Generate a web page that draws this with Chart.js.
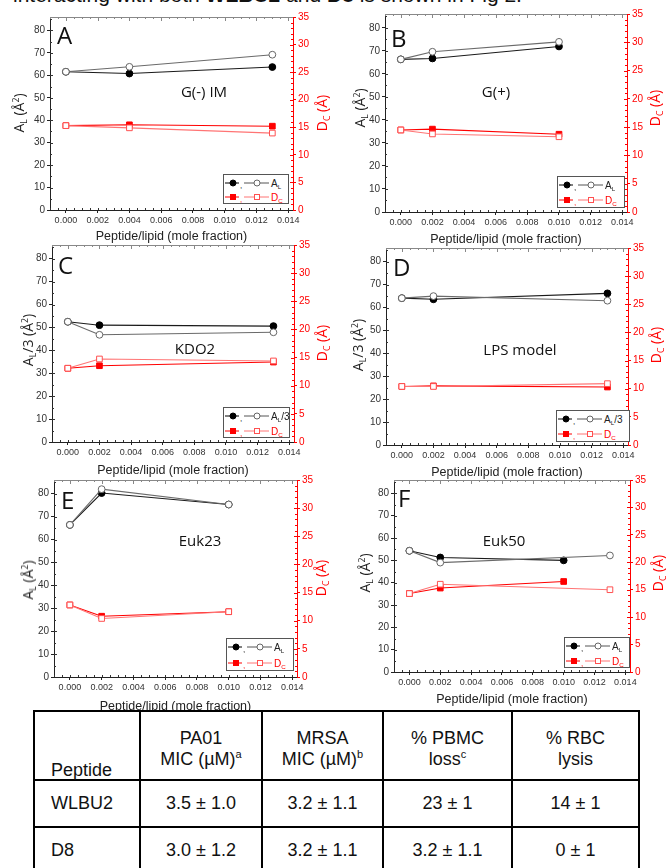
<!DOCTYPE html>
<html>
<head>
<meta charset="utf-8">
<script src="https://cdn.jsdelivr.net/npm/chart.js@4.4.0/dist/chart.umd.min.js"></script>
<style>
html, body { margin: 0; padding: 0; background: #fff; }
#page { position: relative; width: 666px; height: 868px; overflow: hidden; background: #fff; font-family: "Liberation Sans", Arial, sans-serif; }
#topline { position: absolute; left: 13px; top: -16px; font-size: 21px; line-height: 21px; color: #111; white-space: nowrap; }
.pc { position: absolute; }
.letter { position: absolute; font-family: "Open Sans", sans-serif; font-size: 24px; line-height: 24px; color: #111; }
.inner { position: absolute; font-family: "Open Sans", sans-serif; font-size: 15px; line-height: 16px; color: #111; white-space: nowrap; transform: translate(-50%, -50%); }
.ytit { position: absolute; font-family: "Open Sans", sans-serif; font-size: 14px; line-height: 16px; white-space: nowrap; color: #222; transform: translate(-50%, -50%) rotate(-90deg); }
.ytit.red { color: #f00; }
.ytit sub, .lg sub { font-size: 0.62em; vertical-align: -0.3em; line-height: 0; }
.ytit sup { font-size: 0.62em; vertical-align: 0.55em; line-height: 0; }
.lg { position: absolute; box-sizing: border-box; border: 1px solid #555; background: #fff; font-family: "Liberation Sans", Arial, sans-serif; font-size: 10px; color: #222; }
.lg .row { position: absolute; left: 0; height: 12px; display: flex; align-items: center; white-space: nowrap; }
.lg .row span { margin-left: 1px; }
.lg .row.red span { color: #f00; }
#tbl { position: absolute; left: 33px; top: 710px; border-collapse: collapse; table-layout: fixed; background: #fff; z-index: 5; font-family: "Liberation Sans", Arial, sans-serif; font-size: 18px; color: #111; }
#tbl td { border: 2px solid #000; padding: 0; text-align: center; vertical-align: middle; }
#tbl tr.hd td { vertical-align: bottom; line-height: 21.7px; padding-bottom: 8px; }
#tbl tr.hd td.first { line-height: 18px; padding-bottom: 0; }
#tbl td.first { text-align: left; padding-left: 16px; }
#tbl sup { font-size: 11px; vertical-align: 7px; line-height: 0; }
</style>
</head>
<body>
<div id="page">
  <div id="topline">interacting with both <b>WLBU2</b> and <b>D8</b> is shown in Fig 2.</div>
  <table id="tbl">
    <colgroup><col style="width:106px"><col style="width:122px"><col style="width:121px"><col style="width:129px"><col style="width:127px"></colgroup>
    <tr class="hd" style="height:69px"><td class="first">Peptide</td><td>PA01<br>MIC (µM)<sup>a</sup></td><td>MRSA<br>MIC (µM)<sup>b</sup></td><td>% PBMC<br>loss<sup>c</sup></td><td>% RBC<br>lysis</td></tr>
    <tr style="height:47px"><td class="first">WLBU2</td><td>3.5 ± 1.0</td><td>3.2 ± 1.1</td><td>23 ± 1</td><td>14 ± 1</td></tr>
    <tr style="height:47px"><td class="first">D8</td><td>3.0 ± 1.2</td><td>3.2 ± 1.1</td><td>3.2 ± 1.1</td><td>0 ± 1</td></tr>
  </table>
</div>
<script>
// tick values shared by every panel
const xTicks = [0, 0.002, 0.004, 0.006, 0.008, 0.010, 0.012, 0.014];
const alTicks = [0, 10, 20, 30, 40, 50, 60, 70, 80];
const dcTicks = [0, 5, 10, 15, 20, 25, 30, 35];

// A: G(-) IM
const xA = [0, 0.004, 0.013];
const alFilledA = [61.6, 60.8, 63.7];
const alOpenA = [61.6, 63.8, 69.2];
const dcFilledA = [15.3, 15.45, 15.2];
const dcOpenA = [15.3, 14.9, 13.95];

// B: G(+)
const xB = [0, 0.002, 0.010];
const alFilledB = [66.3, 66.7, 71.9];
const alOpenB = [66.3, 69.6, 73.9];
const dcFilledB = [14.5, 14.65, 13.75];
const dcOpenB = [14.5, 13.8, 13.3];

// C: KDO2
const xC = [0, 0.002, 0.013];
const alFilledC = [52.5, 51.0, 50.6];
const alOpenC = [52.5, 46.8, 47.9];
const dcFilledC = [13.1, 13.55, 14.2];
const dcOpenC = [13.1, 14.75, 14.4];

// D: LPS model
const xD = [0, 0.002, 0.013];
const alFilledD = [64.1, 63.6, 66.2];
const alOpenD = [64.1, 65.0, 63.0];
const dcFilledD = [10.4, 10.5, 10.3];
const dcOpenD = [10.4, 10.4, 10.9];

// E: Euk23
const xE = [0, 0.002, 0.010];
const alFilledE = [66.4, 80.3, 75.3];
const alOpenE = [66.4, 82.0, 75.3];
const dcFilledE = [12.8, 10.8, 11.6];
const dcOpenE = [12.8, 10.4, 11.6];

// F: Euk50 (filled and open measured at different ratios)
const xFilledF = [0, 0.002, 0.010];
const xOpenF = [0, 0.002, 0.013];
const alFilledF = [54.3, 51.3, 50.0];
const alOpenF = [54.3, 49.0, 52.2];
const dcFilledF = [14.3, 15.3, 16.5];
const dcOpenF = [14.3, 16.0, 15.0];

const panels = [
  { letter: 'A', name: 'G(-) IM', al: 'A<sub>L</sub>', L: 50, R: 293, T: 17, B: 210, hx: 34,
    xF: xA, xO: xA, alF: alFilledA, alO: alOpenA, dcF: dcFilledA, dcO: dcOpenA,
    letterPos: [57, 23], namePos: [204, 91], alPos: [19, 113], dcPos: [322, 113], lg: [223, 174, 66, 30] },
  { letter: 'B', name: 'G(+)', al: 'A<sub>L</sub>', L: 385, R: 627, T: 14, B: 212, hx: 35,
    xF: xB, xO: xB, alF: alFilledB, alO: alOpenB, dcF: dcFilledB, dcO: dcOpenB,
    letterPos: [391, 26], namePos: [496, 91], alPos: [360, 108], dcPos: [655, 108], lg: [557, 176, 68, 32] },
  { letter: 'C', name: 'KDO2', al: 'A<sub>L</sub>/3', L: 52, R: 294, T: 245, B: 442, hx: 36,
    xF: xC, xO: xC, alF: alFilledC, alO: alOpenC, dcF: dcFilledC, dcO: dcOpenC,
    letterPos: [58, 253], namePos: [195, 348], alPos: [28, 340], dcPos: [322, 343], lg: [223, 407, 67, 31] },
  { letter: 'D', name: 'LPS model', al: 'A<sub>L</sub>/3', L: 386, R: 628, T: 248, B: 445, hx: 35,
    xF: xD, xO: xD, alF: alFilledD, alO: alOpenD, dcF: dcFilledD, dcO: dcOpenD,
    letterPos: [393, 255], namePos: [520, 349], alPos: [358, 345], dcPos: [656, 345], lg: [556, 410, 74, 32] },
  { letter: 'E', name: 'Euk23', al: 'A<sub>L</sub>', L: 54, R: 297, T: 480, B: 677, hx: 37,
    xF: xE, xO: xE, alF: alFilledE, alO: alOpenE, dcF: dcFilledE, dcO: dcOpenE,
    letterPos: [61, 488], namePos: [200, 540], alPos: [28, 580], dcPos: [321, 578], lg: [226, 638, 68, 33] },
  { letter: 'F', name: 'Euk50', al: 'A<sub>L</sub>', L: 394, R: 630, T: 480, B: 672, hx: 35,
    xF: xFilledF, xO: xOpenF, alF: alFilledF, alO: alOpenF, dcF: dcFilledF, dcO: dcOpenF,
    letterPos: [398, 486], namePos: [504, 540], alPos: [365, 573], dcPos: [658, 573], lg: [564, 637, 66, 31] }
];

const WL = 30, WR = 24, PT = 8;

// top frame line plus the small minor ticks of the original plots
const framePlugin = {
  id: 'frame',
  afterDraw(chart) {
    const { ctx, chartArea: a } = chart;
    const sx = chart.scales.x, sl = chart.scales.y, sr = chart.scales.y2;
    ctx.save();
    ctx.lineWidth = 1;
    ctx.strokeStyle = '#888';
    ctx.beginPath();
    ctx.moveTo(a.left, a.top + 0.5);
    ctx.lineTo(a.right, a.top + 0.5);
    for (let k = -2; k <= 28; k++) {
      const px = Math.round(sx.getPixelForValue(k * 0.0005)) + 0.5;
      if (px <= a.left || px >= a.right) continue;
      const len = k % 4 === 0 ? 4 : 2;
      ctx.moveTo(px, a.top);
      ctx.lineTo(px, a.top + len);
    }
    ctx.stroke();
    ctx.strokeStyle = '#333';
    ctx.beginPath();
    for (let k = -2; k <= 28; k++) {
      const px = Math.round(sx.getPixelForValue(k * 0.0005)) + 0.5;
      if (px <= a.left || px >= a.right) continue;
      ctx.moveTo(px, a.bottom);
      ctx.lineTo(px, a.bottom - 2);
    }
    for (let v = 5; v < 86; v += 5) {
      const py = Math.round(sl.getPixelForValue(v)) + 0.5;
      ctx.moveTo(a.left, py);
      ctx.lineTo(a.left + (v % 10 === 0 ? 3 : 2), py);
    }
    ctx.stroke();
    ctx.strokeStyle = '#f00';
    ctx.beginPath();
    for (let v = 1; v < 35; v++) {
      const py = Math.round(sr.getPixelForValue(v)) + 0.5;
      ctx.moveTo(a.right, py);
      ctx.lineTo(a.right - (v % 5 === 0 ? 3 : 2), py);
    }
    ctx.stroke();
    ctx.restore();
  }
};

function pts(xs, ys) {
  return xs.map((x, i) => ({ x: x, y: ys[i] }));
}

function addDiv(cls, html, left, top) {
  const d = document.createElement('div');
  d.className = cls;
  d.innerHTML = html;
  d.style.left = left + 'px';
  d.style.top = top + 'px';
  document.getElementById('page').appendChild(d);
  return d;
}

function legendRow(fillCol, lineCol, openCol, square, y, label, red) {
  const mk = (cx, fill, stroke) => square
    ? `<rect x="${cx - 2.5}" y="3.5" width="5" height="5" fill="${fill}" stroke="${stroke}"/>`
    : `<circle cx="${cx}" cy="6" r="3" fill="${fill}" stroke="${stroke}"/>`;
  return `<div class="row${red ? ' red' : ''}" style="top:${y}px">
    <svg width="46" height="12">
      <line x1="1" y1="6" x2="15" y2="6" stroke="${fillCol}"/>${mk(9, fillCol, fillCol)}
      <text x="16" y="11" font-size="8" fill="${fillCol}">,</text>
      <line x1="20" y1="6" x2="45" y2="6" stroke="${lineCol}"/>${mk(33, '#fff', openCol)}
    </svg><span>${label}</span></div>`;
}

function makePanel(p) {
  const page = document.getElementById('page');
  const wrap = document.createElement('div');
  wrap.className = 'pc';
  const W = (p.R - p.L) + WL + WR;
  const H = (p.B - p.T) + PT + p.hx;
  wrap.style.left = (p.L - WL) + 'px';
  wrap.style.top = (p.T - PT) + 'px';
  const cv = document.createElement('canvas');
  cv.width = W;
  cv.height = H;
  wrap.appendChild(cv);
  page.appendChild(wrap);

  const tickFont = { family: '"Liberation Sans", Arial, sans-serif', size: 10 };
  new Chart(cv.getContext('2d'), {
    type: 'line',
    data: {
      datasets: [
        { data: pts(p.xO, p.alO), yAxisID: 'y', borderColor: '#6a6a6a', borderWidth: 1.1,
          pointRadius: 3.4, pointBackgroundColor: '#fff', pointBorderColor: '#666', pointBorderWidth: 1 },
        { data: pts(p.xO, p.dcO), yAxisID: 'y2', borderColor: '#ff7474', borderWidth: 1.1, pointStyle: 'rect',
          pointRadius: 4, pointBackgroundColor: '#fff', pointBorderColor: '#ff5050', pointBorderWidth: 1 },
        { data: pts(p.xF, p.alF), yAxisID: 'y', borderColor: '#1a1a1a', borderWidth: 1.1,
          pointRadius: 3.4, pointBackgroundColor: '#000', pointBorderColor: '#000', pointBorderWidth: 1 },
        { data: pts(p.xF, p.dcF), yAxisID: 'y2', borderColor: '#f00', borderWidth: 1.1, pointStyle: 'rect',
          pointRadius: 4, pointBackgroundColor: '#f00', pointBorderColor: '#f00', pointBorderWidth: 1 }
      ]
    },
    options: {
      responsive: false,
      animation: false,
      layout: { padding: { top: PT, left: 0, right: 0, bottom: 0 } },
      elements: { line: { tension: 0 } },
      plugins: { legend: { display: false }, tooltip: { enabled: false } },
      scales: {
        x: {
          type: 'linear', position: 'bottom', min: -0.001, max: 0.0143,
          afterBuildTicks: s => { s.ticks = xTicks.map(v => ({ value: v })); },
          afterFit: s => { s.height = p.hx; },
          grid: { drawOnChartArea: false, drawTicks: true, tickLength: 3, color: '#222' },
          border: { color: '#222', width: 1 },
          ticks: { font: { family: tickFont.family, size: 9 }, color: '#333', padding: 2, maxRotation: 0, autoSkip: false,
                   callback: v => v.toFixed(3) },
          title: { display: true, text: 'Peptide/lipid (mole fraction)', color: '#222', padding: 0,
                   font: { family: tickFont.family, size: 12.5, lineHeight: 1.2 } }
        },
        y: {
          position: 'left', min: 0, max: 86,
          afterBuildTicks: s => { s.ticks = alTicks.map(v => ({ value: v })); },
          afterFit: s => { s.width = WL; },
          grid: { drawOnChartArea: false, drawTicks: true, tickLength: 3, color: '#222' },
          border: { color: '#222', width: 1 },
          ticks: { font: tickFont, color: '#333', padding: 2 }
        },
        y2: {
          position: 'right', min: 0, max: 35,
          afterBuildTicks: s => { s.ticks = dcTicks.map(v => ({ value: v })); },
          afterFit: s => { s.width = WR; },
          grid: { drawOnChartArea: false, drawTicks: true, tickLength: 3, color: '#f00' },
          border: { color: '#f00', width: 1 },
          ticks: { font: tickFont, color: '#f00', padding: 2 }
        }
      }
    },
    plugins: [framePlugin]
  });

  addDiv('letter', p.letter, p.letterPos[0], p.letterPos[1]);
  addDiv('inner', p.name, p.namePos[0], p.namePos[1]);
  addDiv('ytit', p.al + ' (Å<sup>2</sup>)', p.alPos[0], p.alPos[1]);
  addDiv('ytit red', 'D<sub>C</sub> (Å)', p.dcPos[0], p.dcPos[1]);

  const lg = addDiv('lg',
    legendRow('#000', '#555', '#666', false, 2, p.al, false) +
    legendRow('#f00', '#ff7474', '#ff5050', true, Math.round(p.lg[3] / 2) + 1, 'D<sub>C</sub>', true),
    p.lg[0], p.lg[1]);
  lg.style.width = p.lg[2] + 'px';
  lg.style.height = p.lg[3] + 'px';
}

document.addEventListener('DOMContentLoaded', function() {
  panels.forEach(makePanel);
});
</script>
</body>
</html>
